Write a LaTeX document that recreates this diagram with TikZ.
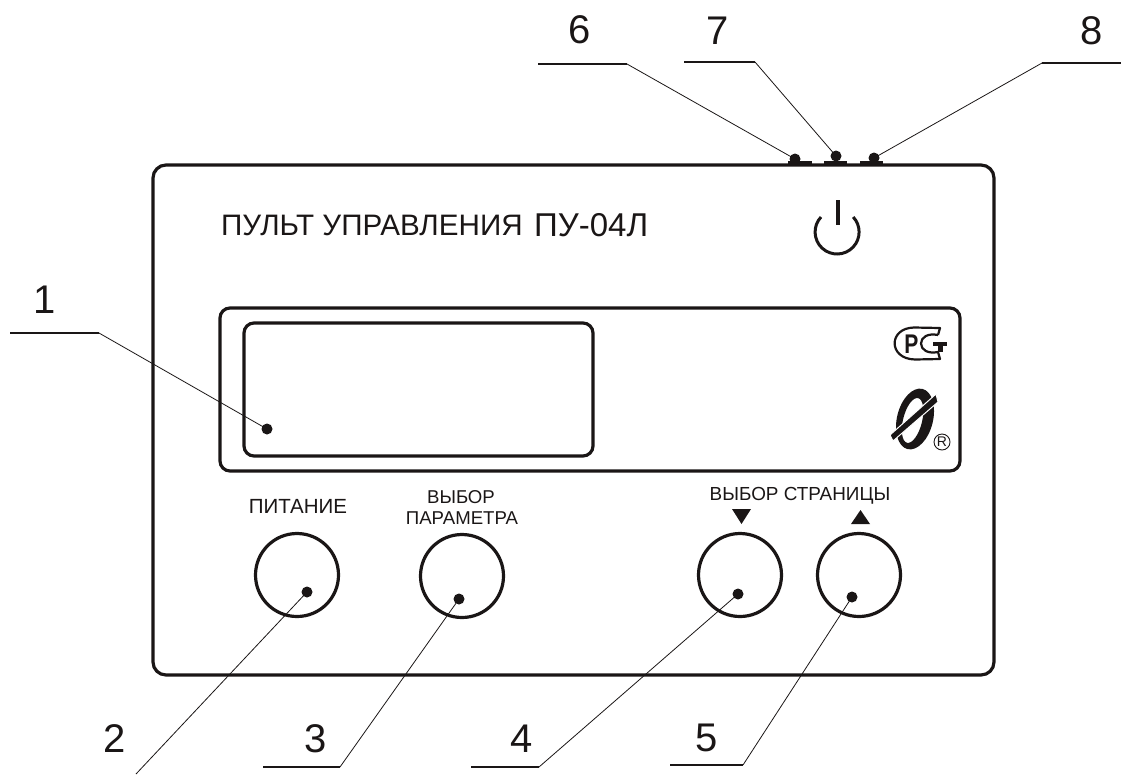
\documentclass[tikz,border=0pt]{standalone}
\usepackage{fontspec}
\setmainfont{Liberation Sans}
\newcommand{\fs}[1]{\fontsize{#1}{#1}\selectfont}
\definecolor{ink}{HTML}{1A1616}
\tikzset{
  frameline/.style={draw=ink,line width=3.2pt,rounded corners=10pt},
  button/.style={circle,draw=ink,line width=3.2pt,minimum size=83pt,inner sep=0pt},
  dot/.style={circle,fill=ink,minimum size=11pt,inner sep=0pt},
  leader/.style={draw=ink,line width=0.8pt},
  shelf/.style={draw=ink,line width=1.4pt},
  lamp/.style={fill=ink,draw=none},
  num/.style={text=ink,inner sep=0pt,font=\fs{40}},
  captxt/.style={text=ink,inner sep=0pt,anchor=base,font=\fs{18.6}},
}
\begin{document}
\begin{tikzpicture}[x=1pt,y=-1pt]
\useasboundingbox (0,0) rectangle (1121,774);
% panels
\draw[frameline,rounded corners=13pt] (153,165) rectangle (994,675);
\draw[frameline] (220,308) rectangle (960,471);
\draw[frameline] (244,323) rectangle (593,456);
% lamps on top edge
\fill[lamp] (788,161) rectangle (812,165);
\fill[lamp] (824,161) rectangle (847,165);
\fill[lamp] (860,161) rectangle (883,165);
% title
\node[text=ink,inner sep=0pt,anchor=base west] (title) at (221,235) {\fs{29.6}ПУЛЬТ УПРАВЛЕНИЯ};
\node[text=ink,inner sep=0pt,anchor=base west] (model) at (534,236) {\fs{33}ПУ-04Л};
% power symbol
\draw[ink,line width=4pt] (838,200) -- (838,225);
\draw[ink,line width=3pt] (821,217) arc[start angle=-223,end angle=43,x radius=22,y radius=-22];
% buttons
\node[button] (b2) at (297,575) {};
\node[button] (b3) at (462,576) {};
\node[button] (b4) at (740,575) {};
\node[button] (b5) at (859,575) {};
% captions
\node[captxt,font=\fs{20.5}] (c2) at (298,513) {ПИТАНИЕ};
\node[captxt] (c3a) at (461,503) {ВЫБОР};
\node[captxt] (c3b) at (462,524) {ПАРАМЕТРА};
\node[captxt,font=\fs{18.9}] (c4) at (800,500) {ВЫБОР СТРАНИЦЫ};
\fill[ink] (732,509) -- (751,509) -- (741.5,524) -- cycle;
\fill[ink] (851,524) -- (870,524) -- (860.5,510) -- cycle;
% PCT mark
\draw[ink,line width=2.2pt,line join=round] (938,335) -- (940,328) -- (914,327.5)
  .. controls (888,328) and (888,359) .. (915,359.5) -- (940,359) -- (938,352)
  .. controls (928,354) and (921,350) .. (921,343.5) .. controls (921,337) and (928,333) .. (938,335);
\node[text=ink,inner sep=0pt,transform shape,xscale=0.78] (mp) at (911.5,344) {\fs{27}\bfseries Р};
\fill[ink] (933,342) rectangle (947,345.5);
\fill[ink] (938,342) rectangle (942.5,352);
% zero mark
\fill[ink,even odd rule] [rotate around={-14:(915,419)}] (915,419) ellipse[x radius=18,y radius=31] (913,421) ellipse[x radius=9.5,y radius=23];
\draw[white,fill=ink,line width=1pt] (890,435) -- (936,394) -- (938,402) -- (893,441) -- cycle;
\draw[ink,line width=0.9pt] (942,442) circle[radius=8];
\node[text=ink,inner sep=0pt] (mr) at (942,442) {\fs{14}R};
% leaders
\node[dot] (d1) at (267,429) {};
\node[dot] (d2) at (307,592) {};
\node[dot] (d3) at (459,599) {};
\node[dot] (d4) at (738,594) {};
\node[dot] (d5) at (852,597) {};
\node[dot] (d6) at (795,159) {};
\node[dot] (d7) at (836,156) {};
\node[dot] (d8) at (874,158) {};
\coordinate (k1) at (99,333); \coordinate (e1) at (10,333);
\coordinate (k2) at (136,774);
\coordinate (k3) at (340,767); \coordinate (e3) at (263,767);
\coordinate (k4) at (539,767); \coordinate (e4) at (471,767);
\coordinate (k5) at (743,765); \coordinate (e5) at (670,765);
\coordinate (k6) at (627,64);  \coordinate (e6) at (538,64);
\coordinate (k7) at (755,62);  \coordinate (e7) at (684,62);
\coordinate (k8) at (1042,63); \coordinate (e8) at (1121,63);
\draw[leader] (d1.center) -- (k1);
\draw[leader] (d2.center) -- (k2);
\draw[leader] (d3.center) -- (k3);
\draw[leader] (d4.center) -- (k4);
\draw[leader] (d5.center) -- (k5);
\draw[leader] (d6.center) -- (k6);
\draw[leader] (d7.center) -- (k7);
\draw[leader] (d8.center) -- (k8);
\draw[shelf] (k1) -- (e1);
\draw[shelf] (k3) -- (e3);
\draw[shelf] (k4) -- (e4);
\draw[shelf] (k5) -- (e5);
\draw[shelf] (k6) -- (e6);
\draw[shelf] (k7) -- (e7);
\draw[shelf] (k8) -- (e8);
% numbers
\node[num] (n1) at (45,300) {1};
\node[num] (n2) at (115,739) {2};
\node[num] (n3) at (316,739) {3};
\node[num] (n4) at (522,739) {4};
\node[num] (n5) at (707,738) {5};
\node[num] (n6) at (580,30) {6};
\node[num] (n7) at (718,31) {7};
\node[num] (n8) at (1092,31) {8};
\end{tikzpicture}
\end{document}
